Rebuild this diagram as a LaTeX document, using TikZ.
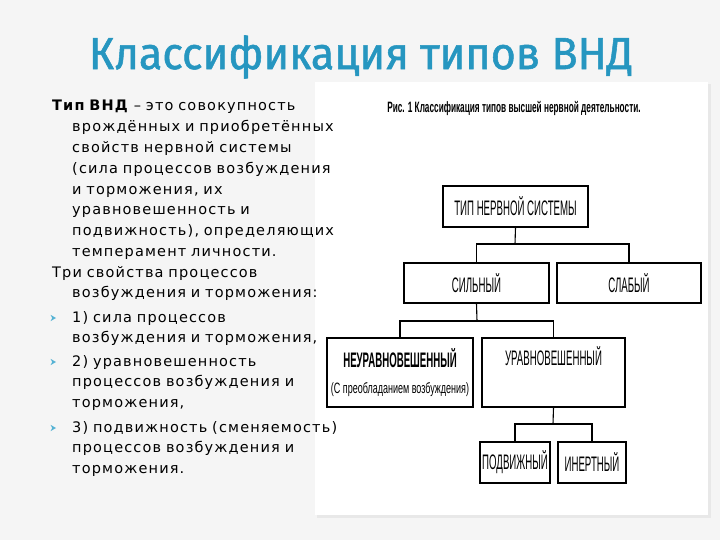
\documentclass[tikz,border=0pt]{standalone}
\usepackage{fontspec}
\usepackage{graphicx}
\setmainfont{DejaVu Sans}
\newfontfamily\narrowfont{Liberation Sans}
\newfontfamily\titlefont[FakeBold=1.2]{Fira Sans}
\usetikzlibrary{positioning}

\definecolor{slidebg}{RGB}{245,245,245}
\definecolor{titleblue}{RGB}{38,150,192}
\definecolor{bulletblue}{RGB}{85,178,212}
\newcommand{\cond}[2][0.46]{\scalebox{#1}[1]{#2}}

\begin{document}
\begin{tikzpicture}[
      x = 1pt, y = -1pt,
      box/.style  = {draw = black, fill = white, line width = 1.4pt, inner sep = 0pt,
                     align = center, font = \narrowfont\fontsize{21}{26}\selectfont},
      link/.style = {line width = 1.1pt},
      body/.style = {anchor = base west, inner sep = 0pt, text width = 300pt, align = left,
                     font = \addfontfeature{LetterSpace=8}\fontsize{14.5}{20.8}\selectfont},
      arrowbullet/.pic = {\fill[bulletblue] (-2.5,-3.2) -- (3,0) -- (-2.5,3.2) -- (-0.8,0) -- cycle;}
    ]
  \useasboundingbox (0,0) rectangle (720,540);

  % slide ---------------------------------------------------------------
  \fill[slidebg] (0,0) rectangle (720,540);
  \fill[black!9] (317,84) rectangle (711,518);
  \fill[white] (315,82) rectangle (708,515);

  \node[font = \titlefont\fontsize{45}{50}\selectfont, text = titleblue] (title) at (361,57)
        {\cond[0.955]{Классификация типов ВНД}};

  % left text ---------------------------------------------------------------
  \node[body] (def) at (52,111)
        {\hangindent=20pt\hangafter=1
         \textbf{Тип ВНД} – это совокупность\newline врождённых и приобретённых\newline
         свойств нервной системы\newline (сила процессов возбуждения\newline
         и торможения, их\newline уравновешенность и\newline
         подвижность), определяющих\newline темперамент личности.\par};
  \node[body] (three) at (52,277)
        {\hangindent=20pt\hangafter=1
         Три свойства процессов\newline возбуждения и торможения:\par};
  \node[body] (prop1) at (72,322) {1) сила процессов\\ возбуждения и торможения,};
  \node[body] (prop2) at (72,366) {2) уравновешенность\\ процессов возбуждения и\\ торможения,};
  \node[body] (prop3) at (72,432) {3) подвижность (сменяемость)\\ процессов возбуждения и\\ торможения.};
  \pic at (53,318) {arrowbullet};
  \pic at (53,362) {arrowbullet};
  \pic at (53,428) {arrowbullet};

  % figure ---------------------------------------------------------------
  \node[font = \narrowfont\bfseries\fontsize{15}{16}\selectfont] (caption) at (514,108)
        {\cond[0.55]{Рис. 1 Классификация типов высшей нервной деятельности.}};

  \node[box, minimum width = 145pt, minimum height = 41pt] (nstype) at (515.5,206.5)
        {\cond{ТИП НЕРВНОЙ СИСТЕМЫ}};
  \node[box, minimum width = 145pt, minimum height = 40pt] (strong) at (476.5,283)
        {\cond{СИЛЬНЫЙ}};
  \node[box, minimum width = 144pt, minimum height = 40pt] (weak) at (629,283)
        {\cond{СЛАБЫЙ}};
  \node[box, minimum width = 146pt, minimum height = 69pt] (unbal) at (400,372.5)
        {\textbf{\cond{НЕУРАВНОВЕШЕННЫЙ}}\\
         {\fontsize{15}{16}\selectfont\cond[0.6]{(С преобладанием возбуждения)}}};
  \node[box, minimum width = 143pt, minimum height = 69pt] (bal) at (553.5,372.5)
        {\cond{УРАВНОВЕШЕННЫЙ}\\ \strut};
  \node[box, minimum width = 70pt, minimum height = 41pt] (mobile) at (515,462.5)
        {\cond{ПОДВИЖНЫЙ}};
  \node[box, minimum width = 68pt, minimum height = 41pt] (inert) at (592,462.5)
        {\cond{ИНЕРТНЫЙ}};

  % connectors ----------------------------------------------------------
  \coordinate (fork1) at (515,244);
  \coordinate (fork2) at (477,321);
  \coordinate (fork3) at (553,424);
  \draw[link] (nstype.south) -- (fork1);
  \draw[link] (strong.north) |- (fork1) -| (weak.north);
  \draw[link] (strong.south) -- (fork2);
  \draw[link] (unbal.north) |- (fork2) -| (bal.north);
  \draw[link] (bal.south) -- (fork3);
  \draw[link] (mobile.north) |- (fork3) -| (inert.north);

\end{tikzpicture}
\end{document}
